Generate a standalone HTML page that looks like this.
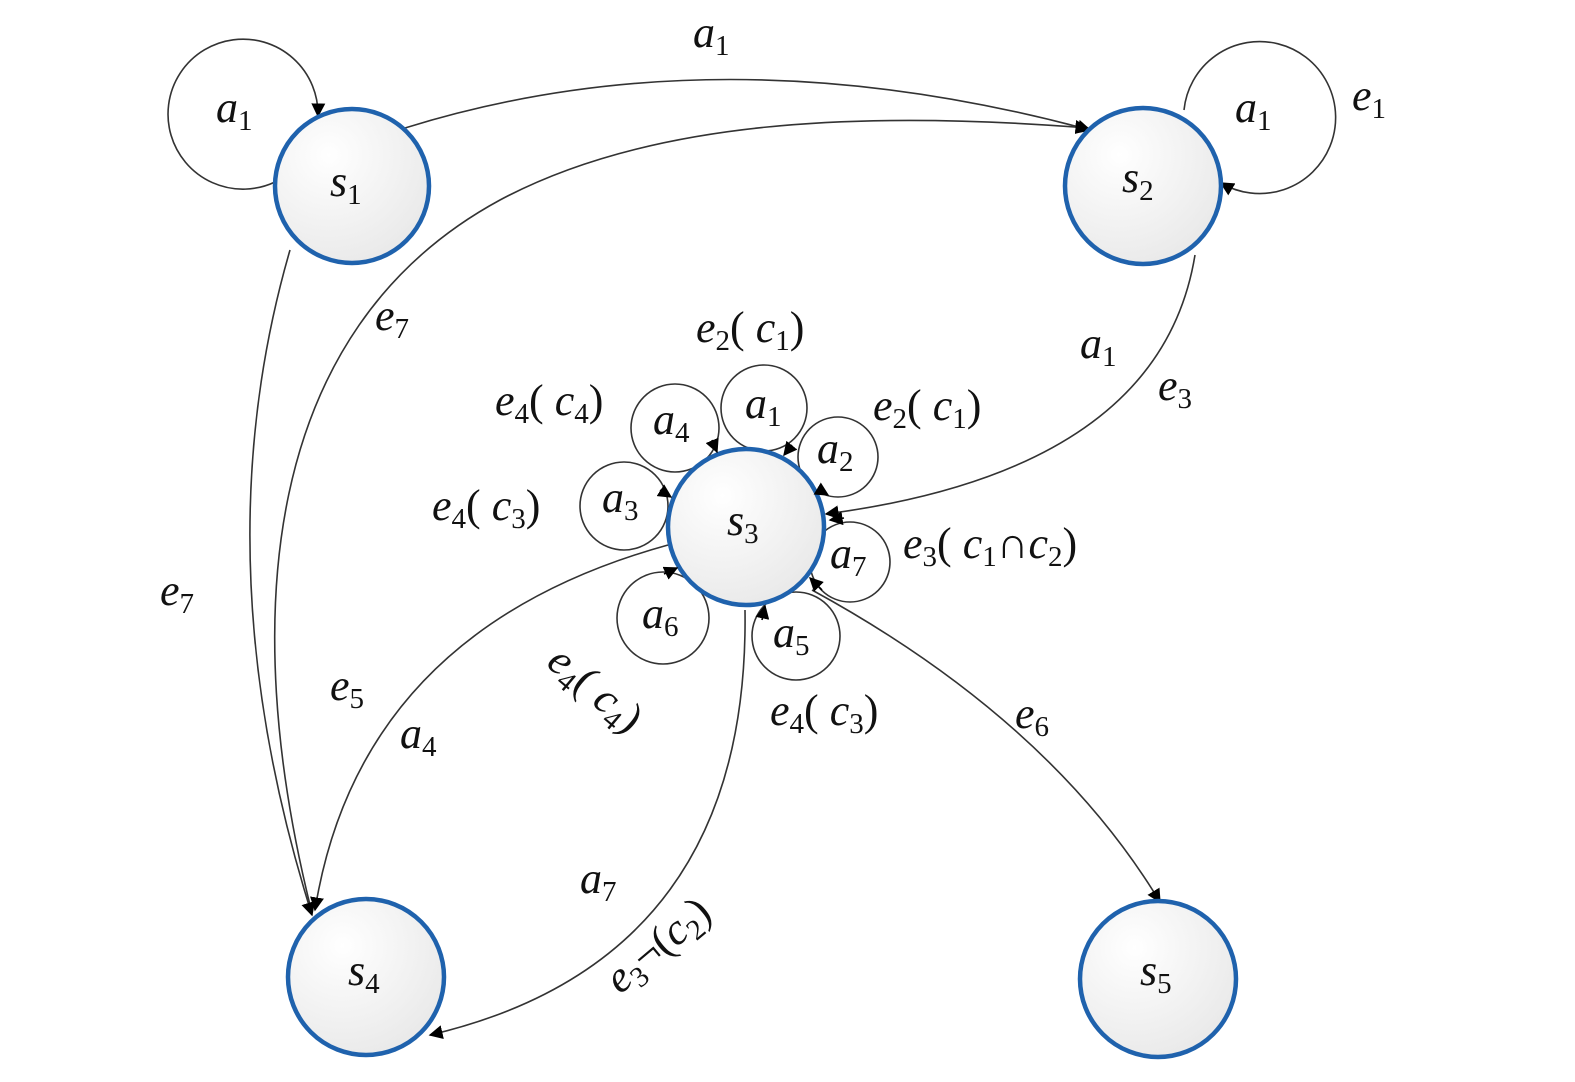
<!DOCTYPE html>
<html><head><meta charset="utf-8"><style>
html,body{margin:0;padding:0;background:#fff;}
svg{display:block;}
text{font-family:"Liberation Serif","DejaVu Serif",serif;font-style:italic;font-size:44px;fill:#111;}
tspan.s{font-size:29px;font-style:normal;}
tspan.n{font-style:normal;}
</style></head><body>
<svg width="1575" height="1082" viewBox="0 0 1575 1082" xmlns="http://www.w3.org/2000/svg">
<defs>
<radialGradient id="g" cx="35%" cy="30%" r="75%"><stop offset="0" stop-color="#ffffff"/><stop offset="1" stop-color="#e9e9e9"/></radialGradient>
<marker id="ar" viewBox="0 0 10 10" refX="9" refY="5" markerWidth="14" markerHeight="14" markerUnits="userSpaceOnUse" orient="auto"><path d="M0,0 L10,5 L0,10 z" fill="#000"/></marker>
</defs>
<g fill="none" stroke="#333" stroke-width="1.6">
<path d="M275,182 A75,75 0 1 1 318,116" marker-end="url(#ar)"/>
<path d="M1184,110 A76,76 0 1 1 1221,183" marker-end="url(#ar)"/>
<!-- small loops around s3 as full circles -->
<circle cx="764" cy="408" r="43"/>
<circle cx="675" cy="428" r="44"/>
<circle cx="838" cy="457" r="40"/>
<circle cx="624" cy="506" r="44"/>
<circle cx="850" cy="562" r="40"/>
<circle cx="663" cy="618" r="46"/>
<circle cx="796" cy="636" r="44"/>
<path d="M405,128 Q720,30 1090,130" marker-end="url(#ar)"/>
<path d="M310,905 C240,620 260,330 500,200 C650,120 860,110 1088,128" marker-end="url(#ar)"/>
<path d="M290,250 Q200,560 312,915" marker-end="url(#ar)"/>
<path d="M1195,255 Q1160,470 826,514" marker-end="url(#ar)"/>
<path d="M668,545 Q360,630 315,910" marker-end="url(#ar)"/>
<path d="M745,610 Q750,960 430,1035" marker-end="url(#ar)"/>
<path d="M812,590 Q1050,720 1160,902" marker-end="url(#ar)"/>
</g>
<g fill="url(#g)" stroke="#1f62ad" stroke-width="4.5">
<circle cx="352" cy="186" r="77"/>
<circle cx="1143" cy="186" r="78"/>
<circle cx="746" cy="527" r="78"/>
<circle cx="366" cy="977" r="78"/>
<circle cx="1158" cy="979" r="78"/>
</g>
<g stroke="#000" stroke-width="1.6">
<path d="M712,440 L717,452" marker-end="url(#ar)"/>
<path d="M792,445 L784,455" marker-end="url(#ar)"/>
<path d="M818,489 L828,495" marker-end="url(#ar)"/>
<path d="M660,490 L671,497" marker-end="url(#ar)"/>
<path d="M844,518 L830,520" marker-end="url(#ar)"/>
<path d="M664,574 L677,568" marker-end="url(#ar)"/>
<path d="M762,620 L765,606" marker-end="url(#ar)"/>
<path d="M822,590 L810,578" marker-end="url(#ar)"/>
</g>
<text x="330" y="196">s<tspan class="s" dy="8">1</tspan></text>
<text x="1122" y="192">s<tspan class="s" dy="8">2</tspan></text>
<text x="727" y="535">s<tspan class="s" dy="8">3</tspan></text>
<text x="348" y="985">s<tspan class="s" dy="8">4</tspan></text>
<text x="1140" y="985">s<tspan class="s" dy="8">5</tspan></text>
<text x="216" y="122">a<tspan class="s" dy="8">1</tspan></text>
<text x="693" y="47">a<tspan class="s" dy="8">1</tspan></text>
<text x="1235" y="122">a<tspan class="s" dy="8">1</tspan></text>
<text x="1352" y="110">e<tspan class="s" dy="8">1</tspan></text>
<text x="375" y="330">e<tspan class="s" dy="8">7</tspan></text>
<text x="160" y="605">e<tspan class="s" dy="8">7</tspan></text>
<text x="1080" y="358">a<tspan class="s" dy="8">1</tspan></text>
<text x="1158" y="400">e<tspan class="s" dy="8">3</tspan></text>
<text x="696" y="342">e<tspan class="s" dy="8">2</tspan><tspan dy="-8" class="n">(</tspan> c<tspan class="s" dy="8">1</tspan><tspan dy="-8" class="n">)</tspan></text>
<text x="873" y="420">e<tspan class="s" dy="8">2</tspan><tspan dy="-8" class="n">(</tspan> c<tspan class="s" dy="8">1</tspan><tspan dy="-8" class="n">)</tspan></text>
<text x="495" y="415">e<tspan class="s" dy="8">4</tspan><tspan dy="-8" class="n">(</tspan> c<tspan class="s" dy="8">4</tspan><tspan dy="-8" class="n">)</tspan></text>
<text x="432" y="520">e<tspan class="s" dy="8">4</tspan><tspan dy="-8" class="n">(</tspan> c<tspan class="s" dy="8">3</tspan><tspan dy="-8" class="n">)</tspan></text>
<text x="903" y="558">e<tspan class="s" dy="8">3</tspan><tspan dy="-8" class="n">(</tspan> c<tspan class="s" dy="8">1</tspan><tspan dy="-8" class="n">∩</tspan>c<tspan class="s" dy="8">2</tspan><tspan dy="-8" class="n">)</tspan></text>
<text x="770" y="725">e<tspan class="s" dy="8">4</tspan><tspan dy="-8" class="n">(</tspan> c<tspan class="s" dy="8">3</tspan><tspan dy="-8" class="n">)</tspan></text>
<text transform="translate(545,665) rotate(40)">e<tspan class="s" dy="8">4</tspan><tspan dy="-8" class="n">(</tspan> c<tspan class="s" dy="8">4</tspan><tspan dy="-8" class="n">)</tspan></text>
<text transform="translate(620,995) rotate(-40)">e<tspan class="s" dy="8">3</tspan><tspan dy="-8" class="n">¬(</tspan>c<tspan class="s" dy="8">2</tspan><tspan dy="-8" class="n">)</tspan></text>
<text x="1015" y="728">e<tspan class="s" dy="8">6</tspan></text>
<text x="330" y="700">e<tspan class="s" dy="8">5</tspan></text>
<text x="400" y="748">a<tspan class="s" dy="8">4</tspan></text>
<text x="580" y="893">a<tspan class="s" dy="8">7</tspan></text>
<text x="745" y="418">a<tspan class="s" dy="8">1</tspan></text>
<text x="653" y="434">a<tspan class="s" dy="8">4</tspan></text>
<text x="817" y="463">a<tspan class="s" dy="8">2</tspan></text>
<text x="602" y="512">a<tspan class="s" dy="8">3</tspan></text>
<text x="830" y="568">a<tspan class="s" dy="8">7</tspan></text>
<text x="642" y="628">a<tspan class="s" dy="8">6</tspan></text>
<text x="773" y="647">a<tspan class="s" dy="8">5</tspan></text>
</svg>
</body></html>
